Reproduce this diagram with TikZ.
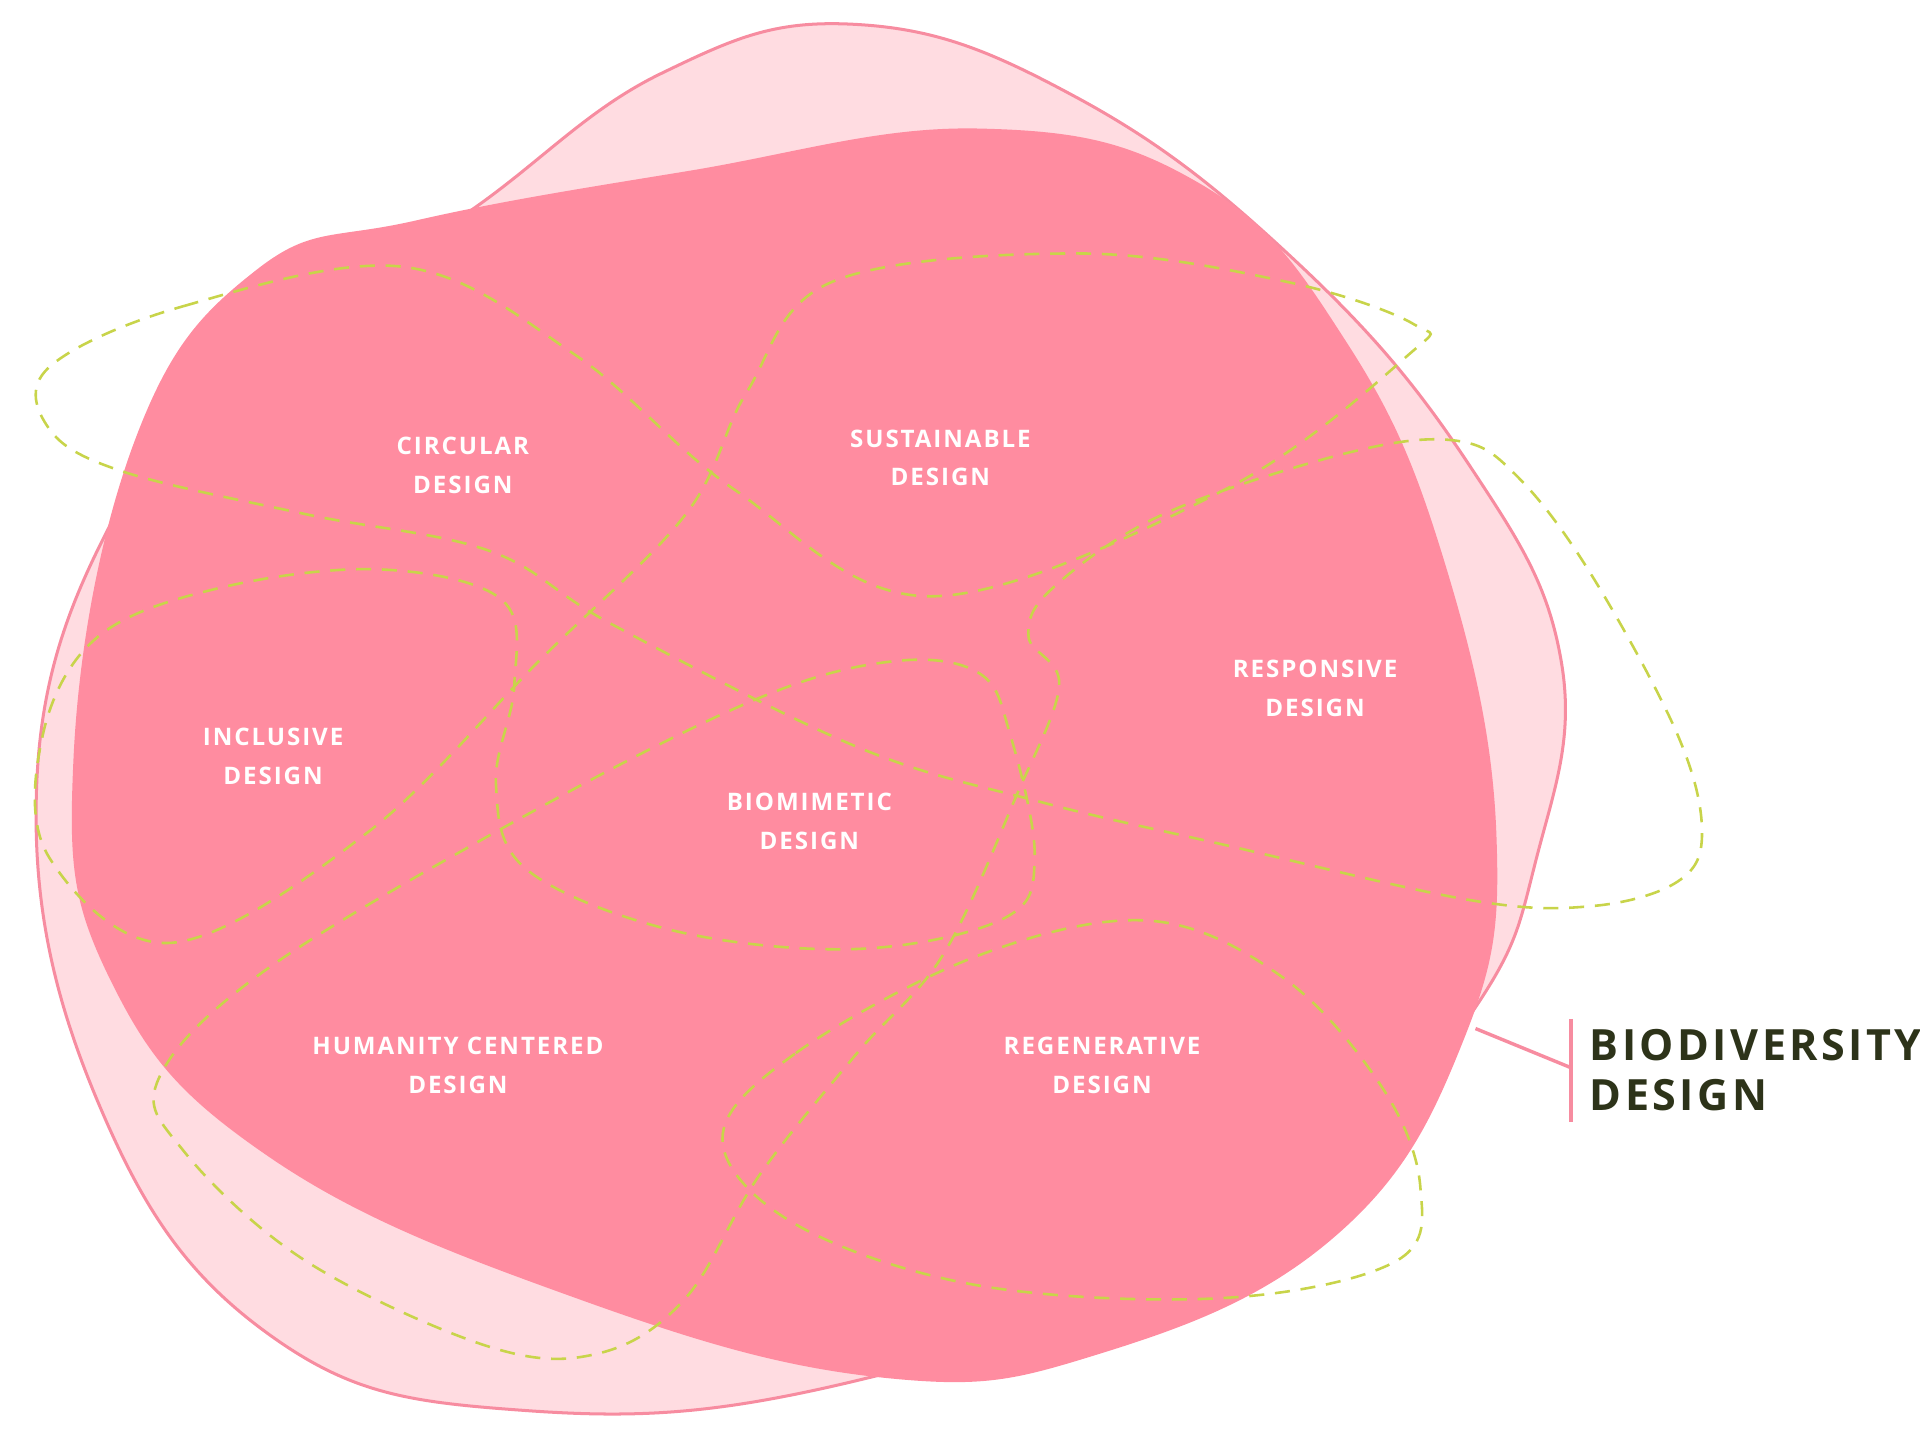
\documentclass[tikz,border=0pt]{standalone}
\usepackage{fontspec}
\setmainfont{Open Sans}
\newfontfamily\lblfont{Open Sans}[LetterSpace=8]
\usetikzlibrary{calc}
\definecolor{lightpink}{HTML}{FFDCE1}
\definecolor{edgepink}{HTML}{F78CA0}
\definecolor{darkpink}{HTML}{FF8CA0}
\definecolor{lime}{HTML}{C8D44A}
\definecolor{olive}{HTML}{2D3319}
\tikzset{
 lbl/.style={text=white,align=center,font=\lblfont\bfseries\fontsize{5.6}{9}\selectfont},
 limedash/.style={draw=lime,line width=0.6pt,dash pattern=on 3.5pt off 2.5pt}
}
\begin{document}
\begin{tikzpicture}[x=0.01cm,y=-0.01cm]
\useasboundingbox (0,0) rectangle (1568,1189);
% light blob
\draw[fill=lightpink,draw=edgepink,line width=0.7pt] plot[smooth cycle,tension=0.7] coordinates{
 (380,175) (540,60) (700,20) (880,80) (1060,215) (1200,380) (1275,540) (1255,700) (1200,830) (1050,1000) (710,1125) (430,1152) (220,1090) (80,900) (30,640) (100,410) (230,270)};
% dark blob
\fill[darkpink] plot[smooth cycle,tension=0.7] coordinates{
 (340,180) (560,140) (800,105) (980,150) (1100,280) (1180,460) (1222,680) (1195,850) (1090,1010) (900,1105) (720,1125) (470,1060) (220,945) (90,800) (60,620) (110,360) (210,220)};
% dashed network
\draw[limedash] plot[smooth cycle,tension=0.6] coordinates{
 (40,300) (150,250) (330,218) (470,290) (600,400) (760,487) (1000,400) (1150,290) (1155,265) (1050,230) (880,207) (680,230) (610,320) (560,420) (440,540) (300,680) (140,770) (40,700) (35,600) (80,520) (180,480) (310,465) (410,490) (420,560) (405,640) (430,710) (550,760) (700,775) (820,750) (845,700) (825,600) (800,550) (730,540) (620,570) (440,660) (220,790) (130,880) (150,940) (250,1030) (400,1100) (490,1105) (560,1060) (620,960) (700,860) (770,780) (830,650) (865,560) (840,520) (860,480) (950,420) (1100,370) (1190,360) (1240,390) (1300,470) (1370,600) (1390,680) (1370,720) (1300,740) (1200,735) (1000,690) (850,655) (700,610) (500,510) (400,450) (250,420) (100,385) (40,350)};
\draw[limedash] plot[smooth cycle,tension=0.6] coordinates{
 (590,930) (650,860) (800,780) (940,752) (1050,800) (1130,890) (1160,970) (1140,1030) (1000,1060) (800,1050) (650,1000)};
% labels
\node[lbl] (circ) at (378,380) {CIRCULAR\\DESIGN};
\node[lbl] (sust) at (768,374) {SUSTAINABLE\\DESIGN};
\node[lbl] (resp) at (1074,562) {RESPONSIVE\\DESIGN};
\node[lbl] (incl) at (223,618) {INCLUSIVE\\DESIGN};
\node[lbl] (biom) at (661,671) {BIOMIMETIC\\DESIGN};
\node[lbl] (hum) at (374,870) {HUMANITY CENTERED\\DESIGN};
\node[lbl] (regen) at (900,870) {REGENERATIVE\\DESIGN};
% callout
\coordinate (p0) at (1205,840);
\coordinate (p1) at (1283,872);
\draw[edgepink,line width=0.8pt] (p0) -- (p1);
\draw[edgepink,line width=0.8pt] (1283,832) -- (1283,916);
\node[anchor=west,align=left,text=olive,font=\lblfont\bfseries\fontsize{10}{11.6}\selectfont] (bio) at (1286,874) {BIODIVERSITY\\DESIGN};
\end{tikzpicture}
\end{document}
